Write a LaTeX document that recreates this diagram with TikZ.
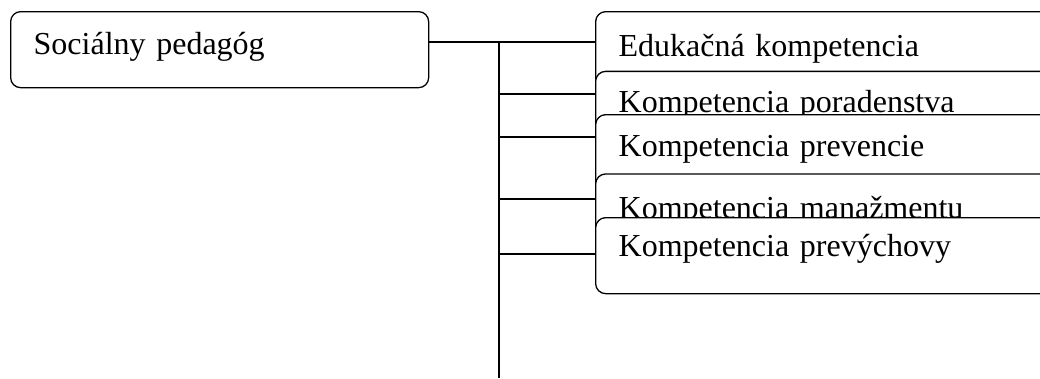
\documentclass[tikz,border=0pt]{standalone}
\usepackage{fontspec}
\setmainfont{Liberation Serif}
\usepackage{tikz}
\tikzstyle{block} = [rectangle, draw, fill=white, rounded corners=10pt, line width=1.3pt, align=left, inner xsep=23pt, inner ysep=0pt, font=\fontsize{32pt}{38pt}\selectfont]
\tikzstyle{rootblock} = [block, text width=372pt, anchor=north west]
\tikzstyle{sub} = [block, text width=434pt]
\tikzstyle{line} = [draw, line width=2pt]

\begin{document}
\begin{tikzpicture}[x=1pt, y=-1pt]
    \path [use as bounding box, clip] (0,0) rectangle (1040,378);
    \node [rootblock, text height=43.3pt, text depth=32.7pt] (socialPed) at (10,11) {Sociálny pedagóg};
    \node [sub, anchor=north west, text height=44.7pt, text depth=31.3pt] (edu) at (595,11) {Edukačná kompetencia};
    \node [sub, below of=edu, node distance=59.7pt, text height=41pt, text depth=35pt] (porad) {Kompetencia poradenstva};
    \node [sub, below of=porad, node distance=43.3pt, text height=41.7pt, text depth=34.3pt] (prev) {Kompetencia prevencie};
    \node [sub, below of=prev, node distance=59.3pt, text height=45pt, text depth=31pt] (manaz) {Kompetencia manažmentu};
    \node [sub, below of=manaz, node distance=43.7pt, text height=38.4pt, text depth=37.6pt] (prevych) {Kompetencia prevýchovy};
    \coordinate (trunkTop) at (499,41.3);
    \coordinate (trunkEnd) at (499,378);
    \path [line] ([yshift=7.7pt]socialPed.east) -- ([yshift=7.7pt]edu.west);
    \path [line] (trunkTop) -- (trunkEnd);
    \foreach \nd/\dy in {porad/15, prev/15.3, manaz/12.6, prevych/1.5} {
      \coordinate (\nd In) at ([yshift=\dy pt]\nd.west);
      \path [line] (\nd In) -- (\nd In -| trunkTop);
    }
\end{tikzpicture}
\end{document}
